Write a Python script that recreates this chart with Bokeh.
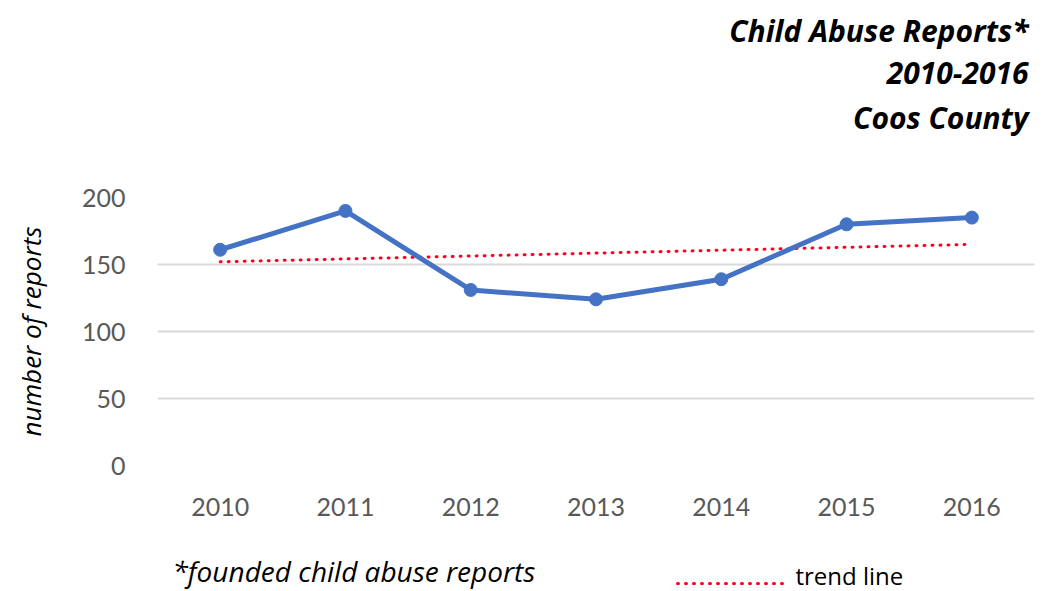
from bokeh.plotting import figure
from bokeh.models import Label, Range1d, FixedTicker
from bokeh.layouts import column
from bokeh.embed import file_html
from bokeh.resources import INLINE

years = ["2010", "2011", "2012", "2013", "2014", "2015", "2016"]
reports = [161, 190, 131, 124, 139, 180, 185]
trend_years = ["2010", "2016"]
trend_values = [152, 165]
y_ticks = [0, 50, 100, 150, 200]

W = 1040
TOP_H, MAIN_H, BOT_H = 167, 363, 61
FONT = "Open Sans"


def blank_fig(h):
    f = figure(width=W, height=h, x_range=Range1d(0, W), y_range=Range1d(h, 0),
               output_backend="svg", toolbar_location=None,
               x_axis_location=None, y_axis_location=None,
               min_border_left=0, min_border_right=0, min_border_top=0, min_border_bottom=0,
               frame_align=False)
    f.outline_line_color = None
    f.grid.visible = False
    return f


def lab(f, text, x, y, size, style="normal", align="left"):
    f.add_layout(Label(x=x, y=y, text=text, text_font=FONT, text_font_size=size,
                       text_font_style=style, text_align=align, text_baseline="middle",
                       text_color="black"))


# title panel
top = blank_fig(TOP_H)
lab(top, "Child Abuse Reports*", 1028, 30, "30px", "bold italic", "right")
lab(top, "2010-2016", 1028, 72, "30px", "bold italic", "right")
lab(top, "Coos County", 1028, 117, "30px", "bold italic", "right")

# main chart
p = figure(x_range=years, y_range=Range1d(0, 200), width=W, height=MAIN_H,
           output_backend="svg", toolbar_location=None, frame_align=False,
           min_border_left=157, min_border_right=W - 1034,
           min_border_top=197 - TOP_H, min_border_bottom=TOP_H + MAIN_H - 465)
p.outline_line_color = None
p.xgrid.grid_line_color = None
p.ygrid.grid_line_color = "#d9d9d9"
p.ygrid.grid_line_width = 2
p.yaxis.ticker = FixedTicker(ticks=y_ticks)
for ax in (p.xaxis[0], p.yaxis[0]):
    ax.axis_line_color = None
    ax.major_tick_line_color = None
    ax.minor_tick_line_color = None
    ax.major_label_text_font = "Lato"
    ax.major_label_text_font_size = "25px"
    ax.major_label_text_color = "#595959"
p.yaxis.major_label_standoff = 26
p.xaxis.major_label_standoff = 26
p.yaxis.axis_label = "number of reports"
p.yaxis.axis_label_text_font = FONT
p.yaxis.axis_label_text_font_size = "26px"
p.yaxis.axis_label_text_font_style = "italic"
p.yaxis.axis_label_text_color = "black"
p.yaxis.axis_label_standoff = 30

p.line(trend_years, trend_values, line_color="#ff0022", line_width=3,
       line_dash="1 7", line_cap="round")
p.line(years, reports, line_color="#4472C4", line_width=5)
p.scatter(years, reports, size=13, fill_color="#4472C4", line_color="#4472C4")

# footnote and legend panel
bot = blank_fig(BOT_H)
lab(bot, "*founded child abuse reports", 172, 40, "28px", "italic", "left")
bot.segment(x0=[677], y0=[53], x1=[782], y1=[53], line_color="#ff0022", line_width=3,
            line_dash="1 7", line_cap="round")
lab(bot, "trend line", 795, 45, "24px", "normal", "left")

layout = column(top, p, bot, spacing=0)
open("out.html", "w").write(file_html(layout, INLINE))
